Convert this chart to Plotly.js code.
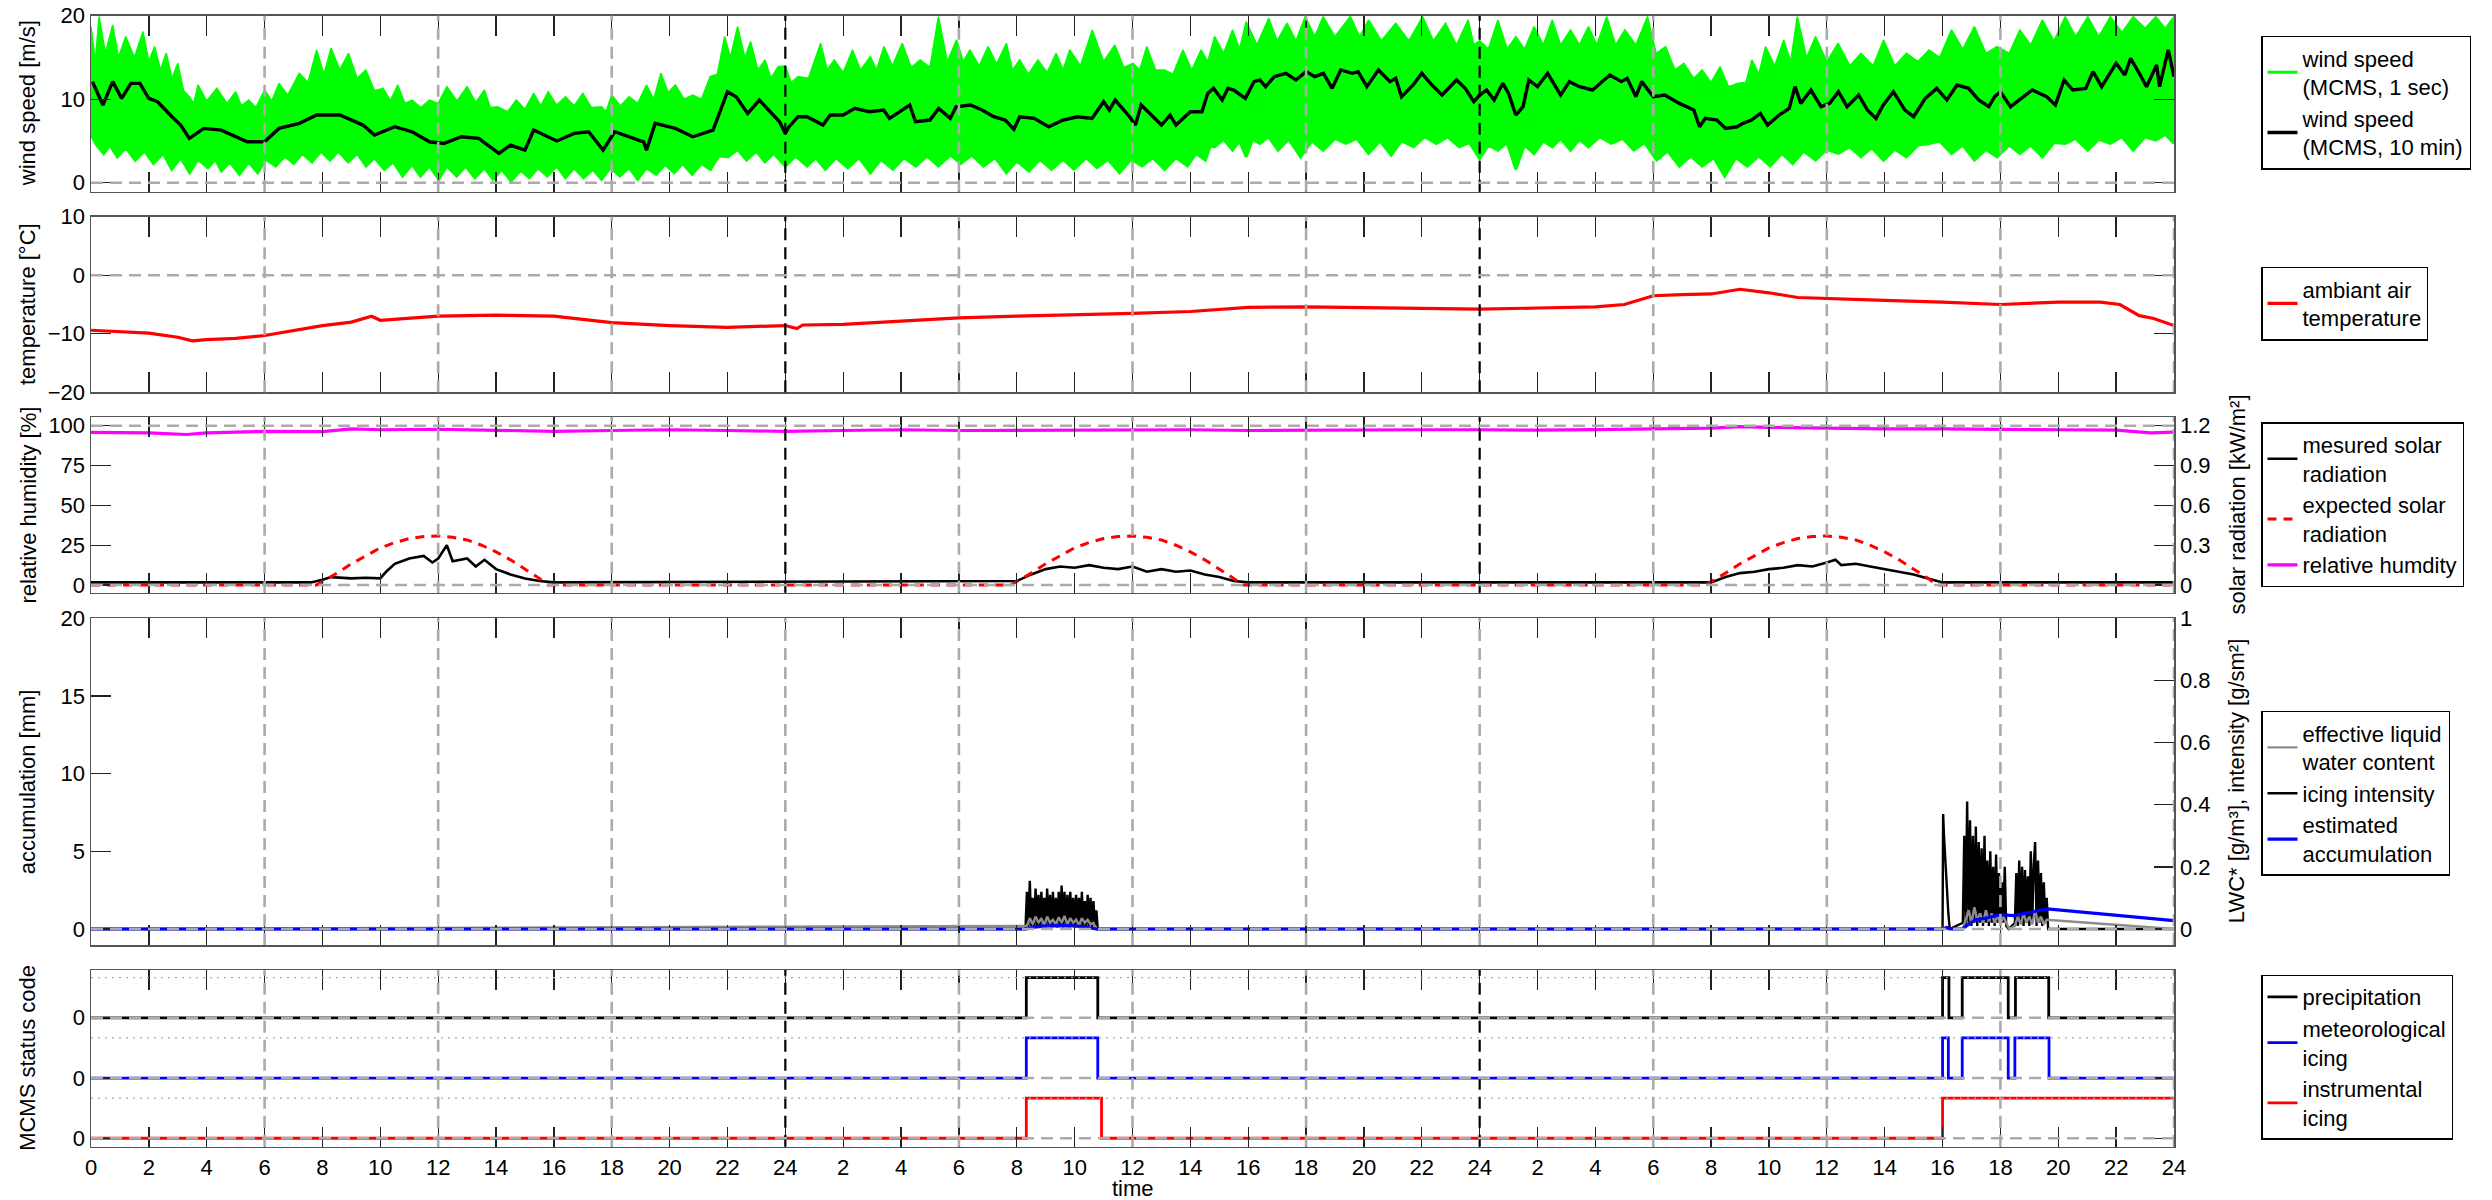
<!DOCTYPE html>
<html><head><meta charset="utf-8">
<script src="https://cdn.plot.ly/plotly-3.0.1.min.js"></script>
<style>html,body{margin:0;padding:0;background:#fff}</style>
</head><body><div id="chart" style="width:2492px;height:1200px"></div>
<script>
// ---------------- DATA (time in hours from start of day 1) ----------------
var xTickVals = [0,2,4,6,8,10,12,14,16,18,20,22,24,26,28,30,32,34,36,38,40,42,44,46,48,50,52,54,56,58,60,62,64,66,68,70,72];
var xTickLabels = ["0","2","4","6","8","10","12","14","16","18","20","22","24","2","4","6","8","10","12","14","16","18","20","22","24","2","4","6","8","10","12","14","16","18","20","22","24"];

// wind speed 1 sec: upper edge of the band (spike tips and band body)
var windHiT = [0,0.15,0.28,0.5,0.75,0.95,1.2,1.5,1.8,2.0,2.2,2.4,2.6,2.8,3.0,3.2,3.4,3.55,3.7,4.0,4.35,4.7,5.0,5.2,5.45,5.7,6.0,6.25,6.5,6.8,7.2,7.5,7.8,8.05,8.3,8.6,8.9,9.2,9.5,9.8,10.1,10.35,10.6,10.85,11.1,11.4,11.7,12.0,12.3,12.65,13.0,13.3,13.6,13.8,14.05,14.4,14.7,15.0,15.3,15.55,15.8,16.1,16.4,16.7,17.0,17.3,17.65,17.8,18.0,18.3,18.6,18.9,19.2,19.45,19.7,19.95,20.2,20.5,20.8,21.1,21.4,21.65,21.9,22.1,22.35,22.6,22.8,23.05,23.3,23.5,23.75,24.0,
  24.2,24.44,24.8,25.22,25.45,25.69,26.0,26.32,26.6,26.94,27.15,27.41,27.7,28.04,28.35,28.66,29.0,29.29,29.6,29.92,30.15,30.38,30.7,31.01,31.3,31.64,31.85,32.1,32.4,32.73,33.05,33.36,33.6,33.83,34.2,34.61,35.0,35.39,35.7,36.02,36.25,36.49,36.8,37.11,37.4,37.74,38.05,38.37,38.6,38.84,39.15,39.46,39.7,39.93,40.3,40.71,41.0,41.34,41.65,41.97,42.3,42.59,43.0,43.53,43.85,44.16,44.6,45.1,45.55,46.03,46.4,46.82,47.2,47.6,47.8,48.0,
  48.3,48.63,48.95,49.25,49.55,49.88,50.2,50.51,50.8,51.14,51.45,51.76,52.05,52.39,52.7,53.02,53.4,53.8,54.1,54.43,54.75,55.06,55.4,55.69,56.0,56.31,56.6,56.94,57.2,57.41,57.65,57.88,58.2,58.51,58.75,58.98,59.3,59.61,60.0,60.39,60.8,61.18,61.6,61.96,62.35,62.75,63.15,63.53,63.9,64.31,64.7,65.1,65.5,65.88,66.3,66.67,67.05,67.45,67.85,68.24,68.6,69.02,69.4,69.8,70.2,70.59,71.0,71.37,71.7,72];
var windHi = [18.7,14.5,19.9,15.5,18.9,15.0,17.5,15.0,18.1,14.5,16.3,13.5,15.5,12.5,14.3,11.0,10.3,9.5,11.7,9.8,11.3,9.5,10.9,9.2,9.9,9.0,11.1,9.8,11.9,10.5,13.1,12.0,15.9,13.0,16.1,13.5,15.5,12.5,13.5,11.0,11.3,9.8,11.7,9.5,9.9,9.0,9.9,9.5,11.5,9.8,11.5,9.6,11.1,9.0,9.1,8.5,9.9,8.8,10.7,9.2,10.9,9.3,10.3,9.2,10.7,9.0,9.1,8.5,10.5,9.2,10.3,9.5,11.7,10.0,13.1,10.8,11.7,10.0,10.5,10.0,12.7,13.0,17.5,15.0,18.7,15.0,16.9,13.5,14.7,12.5,13.9,14.0,
  12.0,12.7,12.5,16.7,13.5,14.7,13.2,15.9,13.5,15.1,13.5,16.3,14.0,16.7,13.8,14.7,13.8,19.9,14.5,17.1,14.5,15.9,14.0,16.3,14.2,16.7,13.5,14.7,13.0,14.7,13.2,15.5,13.5,15.9,14.0,18.3,14.5,16.5,13.8,14.3,13.5,16.3,13.5,13.5,13.0,15.9,13.5,15.9,14.5,17.5,15.5,18.3,16.0,19.3,16.5,19.7,17.0,19.1,17.0,19.9,17.5,19.9,17.5,19.9,17.5,19.5,17.0,19.1,17.0,19.9,17.0,19.1,16.5,19.5,16.5,17.0,
  16.0,19.5,16.0,17.5,16.0,18.7,16.5,19.5,16.5,18.3,16.5,18.7,16.5,19.9,16.5,18.3,16.5,19.9,15.5,16.3,13.5,14.3,12.5,13.5,12.0,13.9,11.5,11.9,12.0,14.7,13.0,16.3,14.0,17.1,14.5,19.9,15.0,17.5,14.5,16.7,14.0,15.5,14.0,17.1,14.0,15.5,14.5,15.9,15.0,18.3,16.0,18.7,15.5,16.3,15.5,18.3,16.5,19.5,17.0,19.9,17.5,19.9,17.5,19.9,18.0,19.9,18.5,19.9,18.5,19.9];
// wind speed 1 sec: lower edge of the band (downward spikes and band body)
var windLoT = [0,0.2,0.44,0.65,0.91,1.2,1.53,1.85,2.16,2.5,2.79,3.1,3.41,3.7,4.04,4.3,4.51,4.8,5.13,5.45,5.76,6.05,6.38,6.7,7.01,7.3,7.64,7.95,8.26,8.55,8.89,9.2,9.51,9.8,10.14,10.45,10.77,11.1,11.39,11.7,12.02,12.3,12.64,12.95,13.27,13.6,13.9,14.2,14.52,14.85,15.15,15.45,15.77,16.1,16.4,16.7,17.03,17.35,17.65,17.95,18.28,18.6,18.9,19.2,19.53,19.85,20.16,20.45,20.78,21.1,21.41,21.7,22.03,22.35,22.66,23.0,23.29,23.6,24.0,
  24.35,24.75,25.05,25.38,25.75,26.16,26.55,26.94,27.3,27.72,28.1,28.51,28.9,29.29,29.7,30.07,30.45,30.85,31.25,31.64,32.0,32.42,32.8,33.2,33.6,33.98,34.4,34.77,35.15,35.55,35.95,36.33,36.7,37.11,37.5,37.9,38.2,38.52,38.7,38.84,39.15,39.46,39.7,39.93,40.15,40.4,40.7,41.03,41.4,41.81,42.2,42.59,43.0,43.37,43.75,44.16,44.55,44.94,45.3,45.72,46.1,46.5,46.9,47.29,47.65,48.0,
  48.3,48.63,48.95,49.25,49.55,49.88,50.2,50.51,50.8,51.14,51.45,51.76,52.15,52.55,52.95,53.33,53.7,54.12,54.5,54.9,55.3,55.69,56.1,56.47,56.85,57.25,57.65,58.04,58.45,58.82,59.2,59.61,60.0,60.39,60.8,61.18,61.55,61.96,62.35,62.75,63.15,63.53,63.9,64.31,64.7,65.1,65.5,65.88,66.3,66.67,67.05,67.45,67.85,68.24,68.6,69.02,69.4,69.8,70.2,70.59,71.0,71.37,71.7,72];
var windLo = [5.7,4.5,3.5,4.5,3.1,4.2,2.7,3.8,2.3,3.5,1.6,3.0,1.2,2.8,1.8,2.8,1.4,2.5,1.0,2.5,1.2,2.8,2.0,3.2,2.3,3.5,2.5,3.8,2.7,3.8,2.5,3.5,2.0,3.0,1.6,2.5,0.8,2.2,0.8,2.0,0.4,2.0,0.8,2.0,0.6,1.8,0.4,1.6,0.2,1.5,0.6,1.8,0.8,2.0,0.6,1.8,0.6,1.6,0.4,1.8,0.8,1.8,0.4,1.8,1.0,2.2,1.2,2.3,1.0,2.3,1.6,3.2,3.1,4.0,2.7,3.8,2.5,3.5,2.0,
  3.2,2.0,3.0,1.6,3.0,1.8,3.0,1.2,2.8,1.6,3.0,2.0,3.2,2.0,3.3,2.3,3.3,2.0,3.0,1.2,2.6,1.4,2.8,1.6,2.8,1.6,3.0,1.8,2.8,1.2,2.8,2.0,3.0,1.6,3.0,2.0,3.5,2.7,4.5,4.3,5.2,3.9,5.0,3.1,5.2,4.7,5.5,3.9,5.2,3.1,5.0,3.9,5.3,4.7,5.3,3.5,5.0,3.3,5.0,4.3,5.5,4.7,5.5,4.3,4.8,2.9,
  4.5,3.9,4.8,1.6,4.5,3.5,5.0,4.3,5.3,3.9,5.2,4.3,5.5,4.7,5.3,3.9,4.8,2.7,3.8,2.0,3.2,2.0,3.0,0.8,3.0,2.0,3.2,2.0,3.5,2.3,3.8,2.7,4.0,3.5,4.3,3.1,4.2,2.7,4.0,3.1,4.5,4.7,5.0,3.5,4.5,2.7,4.0,3.1,4.5,3.5,4.5,3.1,4.8,4.7,5.3,3.9,5.2,4.7,5.5,3.9,5.5,5.1,5.8,4.7];
// wind speed 10 min mean
var wind10T = [0.05,0.41,0.75,1.06,1.38,1.69,2.0,2.3,2.8,3.1,3.4,3.9,4.5,5.0,5.4,6.0,6.5,7.2,7.8,8.6,9.4,9.8,10.5,11.1,11.7,12.2,12.8,13.4,14.1,14.5,15.0,15.3,16.1,16.7,17.2,17.7,18.1,19.1,19.2,19.5,20.2,20.8,21.5,22.0,22.3,22.7,23.1,23.8,24.0,
  24.13,24.44,24.75,25.3,25.55,26.0,26.4,26.9,27.4,27.6,28.3,28.5,29.0,29.3,29.7,29.9,30.4,30.8,31.2,31.6,31.9,32.1,32.6,33.1,33.6,34.1,34.6,35.0,35.2,35.4,35.9,36.1,36.3,36.7,37.0,37.3,37.5,38.0,38.4,38.6,38.8,39.1,39.3,39.5,39.9,40.2,40.4,40.6,40.9,41.3,41.65,42.0,42.3,42.6,42.9,43.2,43.6,43.8,44.1,44.5,44.9,45.1,45.3,45.7,46.0,46.35,46.7,47.2,47.5,47.8,48.0,
  48.24,48.5,48.8,49.0,49.25,49.5,49.7,50.0,50.35,50.8,51.1,51.45,51.9,52.5,52.9,53.1,53.4,53.6,54.0,54.4,54.9,55.4,55.6,55.8,56.2,56.5,56.9,57.1,57.4,57.7,57.95,58.35,58.7,58.9,59.1,59.45,59.8,60.1,60.4,60.7,61.1,61.4,61.7,61.95,62.3,62.7,63.0,63.4,63.8,64.15,64.5,64.9,65.25,65.6,65.8,66.0,66.35,66.8,67.1,67.6,67.9,68.2,68.5,68.95,69.2,69.5,70.0,70.3,70.5,70.8,71.05,71.4,71.5,71.8,72.0];
var wind10 = [12.1,9.3,12.1,10.1,11.9,11.9,10.1,9.7,7.9,6.9,5.3,6.5,6.3,5.5,4.9,4.9,6.5,7.1,8.1,8.1,6.9,5.7,6.7,6.1,4.9,4.7,5.5,5.3,3.5,4.5,3.9,6.3,5.0,5.9,6.1,3.9,6.1,4.9,3.9,7.1,6.5,5.5,6.3,10.9,10.3,8.3,9.9,7.3,5.9,
  6.7,7.9,7.9,6.9,8.1,8.1,8.9,8.5,8.7,7.7,9.3,7.3,7.5,8.9,7.7,9.1,9.3,8.7,7.9,7.5,6.4,7.9,7.7,6.7,7.5,7.9,7.7,9.7,8.7,9.9,7.9,6.9,9.3,7.9,6.9,8.1,6.9,8.5,8.5,10.7,11.3,9.9,11.3,11.1,10.1,12.1,12.3,11.5,12.7,13.1,12.3,13.3,12.7,13.1,11.3,13.5,13.1,13.3,11.5,13.5,12.1,12.5,10.3,11.7,13.1,11.7,10.5,12.3,11.3,9.7,10.5,
  11.1,9.9,11.9,10.7,8.1,9.1,12.3,11.5,13.1,10.5,12.1,11.5,11.1,12.9,12.1,12.5,10.3,12.1,10.3,10.5,9.5,8.7,6.7,7.7,7.5,6.5,6.7,7.1,7.5,8.3,6.9,8.1,8.9,11.5,9.5,11.1,9.1,9.5,10.9,9.1,10.5,8.7,7.7,9.3,10.9,8.7,7.9,10.1,11.3,9.9,11.7,11.3,9.9,9.1,10.3,10.9,9.1,10.3,11.1,10.3,9.3,12.3,11.1,11.3,13.3,11.5,14.3,12.9,14.9,13.1,11.5,14.1,11.5,15.9,12.7];

// temperature
var tempT = [0,1,2,3,3.5,4,5,6,7,8,9,9.5,9.7,10,11,12,14,16,18,20,22,23,24,24.4,24.6,26,28,30,32,34,36,38,40,42,44,46,48,50,52,53,54,55,56,57,58,59,60,62,64,66,68,69.45,70.13,70.8,71.3,72];
var temp = [-9.4,-9.6,-9.9,-10.6,-11.2,-11.0,-10.8,-10.3,-9.5,-8.6,-8.0,-7.3,-7.0,-7.7,-7.4,-7.0,-6.8,-7.0,-8.1,-8.6,-8.9,-8.8,-8.6,-9.1,-8.5,-8.4,-7.8,-7.3,-7.0,-6.8,-6.5,-6.2,-5.5,-5.4,-5.5,-5.7,-5.8,-5.6,-5.4,-5.0,-3.5,-3.3,-3.2,-2.4,-3.0,-3.8,-4.0,-4.3,-4.6,-5.0,-4.6,-4.6,-5.0,-6.9,-7.4,-8.6];

// relative humidity
var rhT = [0,2,3.3,4,6,8,9,10,12,14,16,18,20,22,24,26,28,30,32,34,36,38,40,42,44,46,48,50,52,54,56,57,58,60,62,64,66,68,70,71.2,72];
var rh = [95.9,95.5,94.5,95.5,96.5,96.3,98,97.5,97.8,97,96.5,97,97.5,97,96.5,97,97.5,97,97.2,97.5,97.2,97.5,97,97.3,97.5,97.5,97.5,97.2,97.6,98,98.5,99.5,99,98.5,98,98,97.5,97.5,97.3,95.5,96];

// measured solar radiation [kW/m2]
var solarT = [0,7.6,8.0,8.3,9.0,9.5,10.0,10.2,10.5,11.0,11.5,11.8,12.0,12.3,12.5,13.0,13.3,13.6,14.0,14.5,15.0,15.5,16.0,
  32.0,32.5,33.0,33.5,34.0,34.5,35.0,35.5,36.0,36.5,37.0,37.5,38.0,38.5,39.0,39.5,40.0,
  56.0,56.5,57.0,57.5,58.0,58.5,59.0,59.5,60.0,60.3,60.5,61.0,61.5,62.0,62.5,63.0,63.5,64.0,72];
var solar = [0.02,0.02,0.04,0.06,0.05,0.055,0.05,0.1,0.16,0.2,0.22,0.17,0.2,0.3,0.18,0.2,0.14,0.19,0.12,0.08,0.05,0.03,0.02,
  0.03,0.08,0.12,0.14,0.13,0.15,0.13,0.12,0.14,0.1,0.12,0.1,0.11,0.08,0.06,0.03,0.02,
  0.02,0.06,0.09,0.1,0.12,0.13,0.15,0.14,0.17,0.19,0.15,0.16,0.14,0.12,0.1,0.08,0.05,0.02,0.02];
// expected solar radiation [kW/m2]
var solarExpT = [0,7.8,8.5,9,9.5,10,10.5,11,11.5,12,12.5,13,13.5,14,14.5,15,15.5,15.8,
  31.8,32.5,33,33.5,34,34.5,35,35.5,36,36.5,37,37.5,38,38.5,39,39.5,39.8,
  55.8,56.5,57,57.5,58,58.5,59,59.5,60,60.5,61,61.5,62,62.5,63,63.5,63.8,72];
var solarExp = [0,0,0.09,0.16,0.22,0.28,0.32,0.35,0.365,0.37,0.36,0.34,0.3,0.25,0.19,0.12,0.05,0,
  0,0.09,0.16,0.22,0.28,0.32,0.35,0.365,0.37,0.36,0.34,0.3,0.25,0.19,0.12,0.05,0,
  0,0.09,0.16,0.22,0.28,0.32,0.35,0.365,0.37,0.36,0.34,0.3,0.25,0.19,0.12,0.05,0,0];

// icing intensity [g/sm2]
var intensT = [0,32.3,32.35,32.4,32.45,32.5,32.55,32.6,32.65,32.7,32.75,32.8,32.85,32.9,32.95,33.0,33.05,33.1,33.15,33.2,33.25,33.3,33.35,33.4,33.45,33.5,33.55,33.6,33.65,33.7,33.75,33.8,33.85,33.9,33.95,34.0,34.05,34.1,34.15,34.2,34.25,34.3,34.35,34.4,34.45,34.5,34.55,34.6,34.65,34.7,34.75,34.8,
  64.0,64.02,64.05,64.1,64.15,64.2,64.25,64.7,64.75,64.8,64.85,64.9,64.95,65.0,65.05,65.1,65.15,65.2,65.25,65.3,65.35,65.4,65.45,65.5,65.55,65.6,65.65,65.7,65.75,65.8,65.85,65.9,65.95,66.0,66.05,66.1,66.15,66.2,66.28,66.5,66.55,66.6,66.65,66.7,66.75,66.8,66.85,66.9,66.95,67.0,67.05,67.1,67.15,67.2,67.25,67.3,67.35,67.4,67.45,67.5,67.55,67.6,67.65,72];
var intens = [0,0,0.12,0.005,0.155,0.01,0.1,0.005,0.13,0.01,0.11,0.005,0.12,0.01,0.1,0.005,0.13,0.01,0.11,0.005,0.12,0.01,0.1,0.005,0.12,0.01,0.14,0.005,0.12,0.01,0.11,0.005,0.12,0.01,0.1,0.005,0.11,0.01,0.1,0.005,0.12,0.01,0.09,0.005,0.11,0.01,0.1,0.005,0.09,0.01,0.06,0,
  0,0.37,0.3,0.2,0.12,0.05,0,0.02,0.3,0.01,0.41,0.02,0.35,0.01,0.3,0.02,0.33,0.01,0.28,0.02,0.26,0.01,0.3,0.02,0.22,0.01,0.25,0.02,0.2,0.01,0.24,0.02,0.18,0.01,0.15,0.02,0.2,0.01,0,0.02,0.18,0.01,0.22,0.02,0.2,0.01,0.19,0.02,0.17,0.01,0.25,0.02,0.2,0.28,0.01,0.22,0.02,0.18,0.01,0.15,0.02,0.1,0,0];
// effective liquid water content [g/m3]
var lwcT = [0,32.35,32.45,32.55,32.65,32.75,32.85,32.95,33.05,33.15,33.25,33.35,33.45,33.55,33.65,33.75,33.85,33.95,34.05,34.15,34.25,34.35,34.45,34.55,34.65,34.75,
  64.7,64.8,64.9,65.0,65.1,65.2,65.3,65.4,65.5,65.6,65.7,65.8,65.9,66.0,66.1,66.2,66.3,66.5,66.6,66.7,66.8,66.9,67.0,67.1,67.2,67.3,67.4,67.5,67.6,72];
var lwc = [0,0.01,0.035,0.015,0.04,0.02,0.035,0.012,0.04,0.02,0.03,0.015,0.038,0.02,0.042,0.015,0.035,0.02,0.03,0.012,0.035,0.02,0.03,0.015,0.02,0,
  0,0.03,0.06,0.02,0.07,0.03,0.05,0.02,0.06,0.025,0.05,0.02,0.045,0.015,0.04,0.02,0,0.01,0.04,0.015,0.05,0.02,0.04,0.015,0.06,0.02,0.04,0.015,0.03,0];
// estimated accumulation [mm]
var accumT = [0,32.33,32.6,33.0,33.5,34.0,34.4,34.75,64.0,64.15,64.3,64.68,64.8,65.14,65.5,65.98,66.44,66.96,67.62,72];
var accum = [0,0,0.12,0.2,0.22,0.2,0.12,0,0,0.1,0,0,0.17,0.6,0.7,0.92,0.86,1.07,1.29,0.54];

// MCMS status codes (0 / 1), step changes
var precipT = [0,32.33,34.8,64.0,64.22,64.68,66.27,66.52,67.67,72];
var precip  = [0,1,0,1,0,1,0,1,0,0];
var metIceT = [0,32.33,34.8,64.0,64.2,64.68,66.27,66.5,67.68,72];
var metIce  = [0,1,0,1,0,1,0,1,0,0];
var instIceT = [0,32.33,34.93,64.0,72];
var instIce  = [0,1,0,1,1];

// ---------------- STYLE / LAYOUT ----------------
var FONT = "Liberation Sans, Arial, Helvetica, sans-serif";
var FS = 22;
var W = 2492, H = 1200;
var PX0 = 91, PX1 = 2174;
function fy(p){ return 1 - p / H; }
var panels = [ [15.7,191.7], [216.7,392.3], [417.3,592.7], [618.3,945], [970,1146.7] ];
function dom(i){ return [fy(panels[i][1]), fy(panels[i][0])]; }
var xdom = [PX0 / W, PX1 / W];
var offsets = {precip: 3, met: 1.5, inst: 0};

function xax(anchor, labels){
  var a = {domain: xdom, range: [0,72], anchor: anchor, tickvals: xTickVals, ticktext: xTickLabels,
    showticklabels: labels, ticks: 'inside', ticklen: 20, tickwidth: 1.3, tickcolor: '#222',
    showline: true, linecolor: '#555', linewidth: 1.5, mirror: 'ticks', showgrid: false, zeroline: false,
    tickfont: {family: FONT, size: FS, color: '#000'}, automargin: false};
  if (anchor !== 'y') a.matches = 'x';
  return a;
}
function yax(d, range, vals, texts, opt){
  var a = {domain: d, range: range, tickvals: vals, ticktext: texts, ticks: 'inside', ticklen: 20, tickwidth: 1.3, tickcolor: '#222',
    showline: true, linecolor: '#555', linewidth: 1.5, mirror: 'ticks', showgrid: false, zeroline: false,
    tickfont: {family: FONT, size: FS, color: '#000'}, automargin: false};
  for (var k in opt) a[k] = opt[k];
  return a;
}

var traces = [];
// panel 1
traces.push({x: windLoT, y: windLo, xaxis: 'x', yaxis: 'y', mode: 'lines', line: {color: '#00ff00', width: 3},
  name: 'wind speed<br>(MCMS, 1 sec)', legend: 'legend', legendrank: 1, hoverinfo: 'skip'});
traces.push({x: windHiT, y: windHi, xaxis: 'x', yaxis: 'y', mode: 'lines', line: {color: '#00ff00', width: 1.5},
  fill: 'tonexty', fillcolor: '#00ff00', showlegend: false, hoverinfo: 'skip'});
traces.push({x: wind10T, y: wind10, xaxis: 'x', yaxis: 'y', mode: 'lines', line: {color: '#000', width: 3.4},
  name: 'wind speed<br>(MCMS, 10 min)', legend: 'legend', legendrank: 2});
// panel 2
traces.push({x: tempT, y: temp, xaxis: 'x2', yaxis: 'y2', mode: 'lines', line: {color: '#ff0000', width: 3.2},
  name: 'ambiant air<br>temperature', legend: 'legend2'});
// panel 3
traces.push({x: rhT, y: rh, xaxis: 'x3', yaxis: 'y3', mode: 'lines', line: {color: '#ff00ff', width: 3.2},
  name: 'relative humdity', legend: 'legend3', legendrank: 3});
traces.push({x: solarT, y: solar, xaxis: 'x3', yaxis: 'y4', mode: 'lines', line: {color: '#000', width: 2.6},
  name: 'mesured solar<br>radiation', legend: 'legend3', legendrank: 1});
traces.push({x: solarExpT, y: solarExp, xaxis: 'x3', yaxis: 'y4', mode: 'lines', line: {color: '#ff0000', width: 3, dash: '9px,7px'},
  name: 'expected solar<br>radiation', legend: 'legend3', legendrank: 2});
// panel 4 (base y5 right axis: LWC / intensity; y6 overlay left axis: accumulation)
traces.push({x: intensT, y: intens, xaxis: 'x4', yaxis: 'y5', mode: 'lines', line: {color: '#000', width: 2.4},
  name: 'icing intensity', legend: 'legend4', legendrank: 2});
traces.push({x: lwcT, y: lwc, xaxis: 'x4', yaxis: 'y5', mode: 'lines', line: {color: '#8c8c8c', width: 2.4},
  name: 'effective liquid<br>water content', legend: 'legend4', legendrank: 1});
traces.push({x: accumT, y: accum, xaxis: 'x4', yaxis: 'y6', mode: 'lines', line: {color: '#0000ff', width: 3.2},
  name: 'estimated<br>accumulation', legend: 'legend4', legendrank: 3});
// panel 5
traces.push({x: precipT, y: precip.map(function(v){return v + offsets.precip;}), xaxis: 'x5', yaxis: 'y7', mode: 'lines', line: {color: '#000', width: 2.8, shape: 'hv'},
  name: 'precipitation', legend: 'legend5'});
traces.push({x: metIceT, y: metIce.map(function(v){return v + offsets.met;}), xaxis: 'x5', yaxis: 'y7', mode: 'lines', line: {color: '#0000ff', width: 2.8, shape: 'hv'},
  name: 'meteorological<br>icing', legend: 'legend5'});
traces.push({x: instIceT, y: instIce.map(function(v){return v + offsets.inst;}), xaxis: 'x5', yaxis: 'y7', mode: 'lines', line: {color: '#ff0000', width: 2.8, shape: 'hv'},
  name: 'instrumental<br>icing', legend: 'legend5'});

// reference lines (drawn above data)
var shapes = [];
var GRAY = '#ababab';
var grayV = [6,12,18,30,36,42,54,60,66];
var blackV = [24,48];
var panelAxes = [['x','y'],['x2','y2'],['x3','y3'],['x4','y5'],['x5','y7']];
panelAxes.forEach(function(ax, i){
  var vs = grayV.slice(); if (i > 0) vs.push(72);
  vs.forEach(function(v){
    shapes.push({type: 'line', layer: 'above', xref: ax[0], yref: ax[1] + ' domain', x0: v, x1: v, y0: 0, y1: 1,
      line: {color: GRAY, width: 2.6, dash: '12px,7px'}});
  });
  blackV.forEach(function(v){
    shapes.push({type: 'line', layer: 'above', xref: ax[0], yref: ax[1] + ' domain', x0: v, x1: v, y0: 0, y1: 1,
      line: {color: i === 3 ? GRAY : '#000', width: i === 3 ? 2.6 : 2.2, dash: '12px,7px'}});
  });
});
function hline(xr, yr, v, dash, w){
  shapes.push({type: 'line', layer: 'above', xref: xr + ' domain', yref: yr, x0: 0, x1: 1, y0: v, y1: v,
    line: {color: GRAY, width: w, dash: dash}});
}
hline('x','y',0,'12px,7px',2.6);
hline('x2','y2',0,'12px,7px',2.6);
hline('x3','y3',0,'12px,7px',2.6);
hline('x3','y3',100,'12px,7px',2.6);
hline('x4','y6',0,'12px,7px',2.6);
[offsets.precip, offsets.met, offsets.inst].forEach(function(o){
  hline('x5','y7',o,'12px,7px',2.6);
  hline('x5','y7',o + 1,'2px,5px',1.3);
});

function ann(text, xpx, ypx, angle){
  return {text: text, xref: 'paper', yref: 'paper', x: xpx / W, y: fy(ypx), xanchor: 'center', yanchor: 'middle',
    textangle: angle, showarrow: false, font: {family: FONT, size: FS, color: '#000'}};
}
var annotations = [
  ann('wind speed [m/s]', 27.5, (panels[0][0]+panels[0][1])/2, -90),
  ann('temperature [°C]', 27.5, (panels[1][0]+panels[1][1])/2, -90),
  ann('relative humidity [%]', 27.5, (panels[2][0]+panels[2][1])/2, -90),
  ann('accumulation [mm]', 27.5, (panels[3][0]+panels[3][1])/2, -90),
  ann('MCMS status code', 27.5, (panels[4][0]+panels[4][1])/2, -90),
  ann('solar radiation [kW/m²]', 2236.5, (panels[2][0]+panels[2][1])/2, -90),
  ann('LWC* [g/m³], intensity [g/sm²]', 2236.5, (panels[3][0]+panels[3][1])/2, -90),
  ann('time', (PX0+PX1)/2, 1188, 0)
];

function leg(ypx){
  return {x: 2261 / W, y: fy(ypx), xanchor: 'left', yanchor: 'middle', xref: 'paper', yref: 'paper',
    bgcolor: '#fff', bordercolor: '#000', borderwidth: 1.5, font: {family: FONT, size: FS, color: '#000'},
    tracegroupgap: 0, traceorder: 'normal', itemclick: false, itemdoubleclick: false};
}

var layout = {
  width: W, height: H, margin: {l: 0, r: 0, t: 0, b: 0, pad: 0},
  paper_bgcolor: '#fff', plot_bgcolor: '#fff', font: {family: FONT, size: FS, color: '#000'},
  showlegend: true, hovermode: false,
  xaxis: xax('y', false), xaxis2: xax('y2', false), xaxis3: xax('y3', false), xaxis4: xax('y5', false), xaxis5: xax('y7', true),
  yaxis: yax(dom(0), [-1.08, 20], [0,10,20], ['0','10','20'], {anchor: 'x'}),
  yaxis2: yax(dom(1), [-20, 10], [-20,-10,0,10], ['\u221220','\u221210','0','10'], {anchor: 'x2'}),
  yaxis3: yax(dom(2), [-4.8, 105.3], [0,25,50,75,100], ['0','25','50','75','100'], {anchor: 'x3', mirror: false}),
  yaxis4: yax(dom(2), [-0.0576, 1.2636], [0,0.3,0.6,0.9,1.2], ['0','0.3','0.6','0.9','1.2'], {anchor: 'x3', overlaying: 'y3', side: 'right', mirror: false}),
  yaxis5: yax(dom(3), [-0.0515, 1], [0,0.2,0.4,0.6,0.8,1], ['0','0.2','0.4','0.6','0.8','1'], {anchor: 'x4', side: 'right', mirror: false}),
  yaxis6: yax(dom(3), [-1.03, 20], [0,5,10,15,20], ['0','5','10','15','20'], {anchor: 'x4', overlaying: 'y5', side: 'left', mirror: false}),
  yaxis7: yax(dom(4), [-0.21, 4.19], [offsets.inst, offsets.met, offsets.precip], ['0','0','0'], {anchor: 'x5'}),
  legend: leg(102.7), legend2: leg(303.7), legend3: leg(504.7), legend4: leg(793.3), legend5: leg(1057),
  shapes: shapes, annotations: annotations
};

Plotly.newPlot('chart', traces, layout, {staticPlot: true, displayModeBar: false});
</script></body></html>
